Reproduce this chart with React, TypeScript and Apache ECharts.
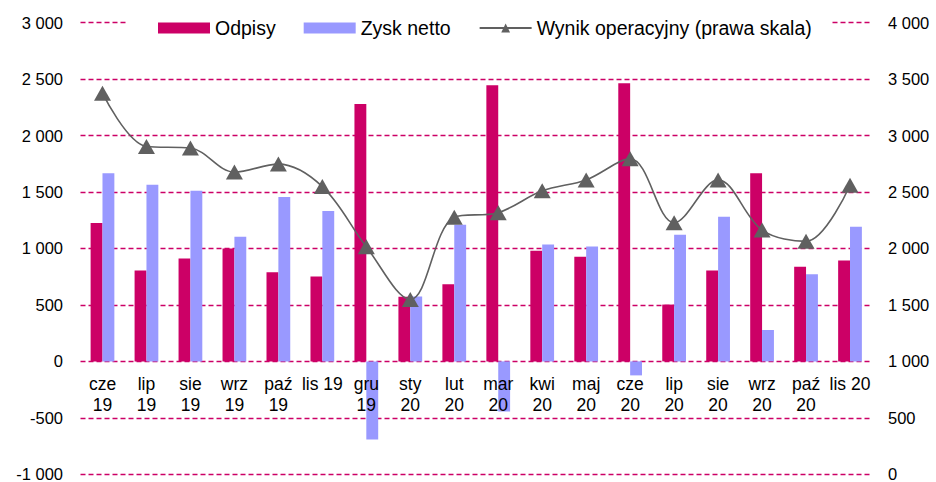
import React, { useEffect, useRef } from "react";
import * as echarts from "echarts";

const categories = ["cze\n19", "lip\n19", "sie\n19", "wrz\n19", "paź\n19", "lis 19", "gru\n19", "sty\n20", "lut\n20", "mar\n20", "kwi\n20", "maj\n20", "cze\n20", "lip\n20", "sie\n20", "wrz\n20", "paź\n20", "lis 20"];
const odpisy = [1225, 805, 910, 1000, 790, 752, 2280, 572, 684, 2445, 980, 926, 2462, 503, 805, 1665, 837, 894];
const zyskNetto = [1667, 1563, 1510, 1104, 1456, 1332, -692, 574, 1210, -444, 1036, 1018, -124, 1121, 1281, 278, 772, 1192];
const wynikOperacyjny = [3375, 2903, 2889, 2676, 2747, 2548, 2015, 1548, 2276, 2317, 2510, 2607, 2794, 2228, 2607, 2163, 2063, 2560];

const fmt = (v: number) => {
  const s = String(Math.abs(v)).replace(/\B(?=(\d{3})+(?!\d))/g, " ");
  return (v < 0 ? "-" : "") + s;
};

const FONT = "'Liberation Sans', Arial, sans-serif";
const GRID_TOP = 22.6;
const GRID_BOTTOM_Y = 474.3;

export default function App() {
  const ref = useRef<HTMLDivElement>(null);
  useEffect(() => {
    document.body.style.margin = "0";
    document.body.style.overflow = "hidden";
    if (!ref.current) return;
    const chart = echarts.init(ref.current, undefined, { renderer: "svg" });
    const zeroY = GRID_TOP + (GRID_BOTTOM_Y - GRID_TOP) * 0.75;
    chart.setOption({
      animation: false,
      textStyle: { fontFamily: FONT },
      grid: { left: 80.5, right: 64, top: GRID_TOP, bottom: 482 - GRID_BOTTOM_Y, containLabel: false, outerBoundsMode: "none" },
      legend: {
        left: 127,
        top: 14,
        padding: [4, 20, 4, 31],
        backgroundColor: "#ffffff",
        itemGap: 28,
        itemWidth: 52,
        itemHeight: 11,
        textStyle: { fontSize: 19.5, color: "#000", fontFamily: FONT },
        data: [
          { name: "Odpisy", icon: "rect" },
          { name: "Zysk netto", icon: "rect" },
          { name: "Wynik operacyjny (prawa skala)" },
        ],
      },
      xAxis: {
        type: "category",
        data: categories,
        position: "bottom",
        offset: -(GRID_BOTTOM_Y - zeroY),
        z: 10,
        axisLine: { show: false, onZero: false },
        axisTick: { show: false },
        axisLabel: {
          interval: 0,
          fontSize: 17.5,
          lineHeight: 21,
          color: "#000",
          margin: 12,
          fontFamily: FONT,
        },
      },
      yAxis: [
        {
          type: "value",
          min: -1000,
          max: 3000,
          interval: 500,
          axisLine: { show: false },
          axisTick: { show: false },
          axisLabel: { fontSize: 16.5, color: "#000", margin: 17.5, formatter: fmt, fontFamily: FONT },
          splitLine: { show: true, lineStyle: { color: "#CC0066", type: [5, 3], width: 1.3 } },
        },
        {
          type: "value",
          min: 0,
          max: 4000,
          interval: 500,
          axisLine: { show: false },
          axisTick: { show: false },
          axisLabel: { fontSize: 16.5, color: "#000", margin: 16, formatter: fmt, fontFamily: FONT },
          splitLine: { show: false },
        },
      ],
      series: [
        {
          name: "Odpisy",
          type: "bar",
          data: odpisy,
          itemStyle: { color: "#CC0066" },
          barGap: "0%",
          barCategoryGap: "46%",
          z: 2,
        },
        {
          name: "Zysk netto",
          type: "bar",
          data: zyskNetto,
          itemStyle: { color: "#9999FF" },
          barGap: "0%",
          barCategoryGap: "46%",
          z: 2,
        },
        {
          name: "Wynik operacyjny (prawa skala)",
          type: "line",
          yAxisIndex: 1,
          data: wynikOperacyjny,
          smooth: 0.35,
          symbol: "triangle",
          symbolSize: [17, 15],
          lineStyle: { color: "#606060", width: 1.6 },
          itemStyle: { color: "#606060" },
          z: 5,
        },
      ],
    });
    return () => chart.dispose();
  }, []);
  return <div ref={ref} style={{ position: "absolute", left: 0, top: 0, width: 936, height: 482 }} />;
}
